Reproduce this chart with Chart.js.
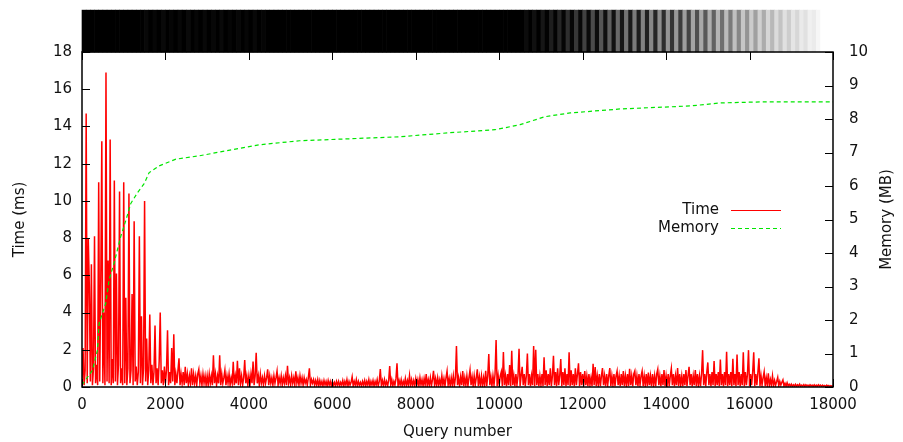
<!DOCTYPE html>
<html><head><meta charset="utf-8">
<script src="https://cdn.jsdelivr.net/npm/chart.js@4.4.1/dist/chart.umd.min.js"></script>
<style>html,body{margin:0;padding:0;background:#fff}#wrap{width:903px;height:442px}</style>
</head><body><div id="wrap"><canvas id="c" width="903" height="442"></canvas></div>
<script>
// ---- data ----
const X_TITLE = 'Query number';
const Y_TITLE = 'Time (ms)';
const Y2_TITLE = 'Memory (MB)';
const TIME_LABEL = 'Time';
const MEM_LABEL = 'Memory';
const xTicks = [0, 2000, 4000, 6000, 8000, 10000, 12000, 14000, 16000, 18000];
const yTicks = [0, 2, 4, 6, 8, 10, 12, 14, 16, 18];
const y2Ticks = [0, 1, 2, 3, 4, 5, 6, 7, 8, 9, 10];

const QUERY_STEP = 25; // queries between time samples
const timeMs = [
0.2,2.1,0.1,0.9,14.7,0.2,8.0,5.5,0.3,6.6,0.1,1.0,8.1,0.2,1.2,0.1,11.0,0.3,5.7,13.2,0.2,4.0,0.1,16.9,0.3,6.8,0.2,13.3,0.1,1.5,0.2,11.1,0.3,6.1,0.1,1.2,10.5,0.2,1.0,0.1,
11.0,0.2,4.8,0.1,1.0,10.4,0.2,0.9,5.0,0.1,8.9,0.3,1.1,0.1,0.8,8.1,0.2,3.8,0.1,1.0,10.0,0.3,2.6,0.1,0.9,3.9,0.2,1.2,0.1,0.8,3.3,0.2,1.0,0.1,1.4,4.0,0.2,0.9,0.1,1.1,
0.2,0.9,3.05,0.1,0.8,0.2,2.1,0.3,2.84,0.1,0.7,0.2,0.9,1.54,0.1,0.7,0.2,0.8,0.1,1.09,0.2,0.7,0.1,0.6,0.2,1.0,0.1,0.7,0.2,0.6,0.1,0.7,0.95,0.2,0.6,0.1,0.7,0.2,0.6,0.1,
0.6,0.1,0.7,0.2,0.6,0.1,1.7,0.2,0.7,0.1,0.6,0.2,1.7,0.1,0.7,0.2,0.5,0.9,0.1,0.6,0.2,0.7,0.1,0.5,0.2,1.36,0.1,0.6,0.2,1.41,0.1,1.0,0.2,0.6,0.1,0.5,1.45,0.2,0.6,0.1,
0.6,0.1,0.7,0.2,1.37,0.1,0.6,1.84,0.2,0.6,0.1,0.7,0.2,0.5,0.1,0.6,0.2,0.5,0.95,0.1,0.6,0.2,0.5,0.1,0.6,0.2,0.5,0.86,0.1,0.5,0.2,0.6,0.1,0.5,0.2,0.6,0.1,1.14,0.2,0.5,
0.1,0.6,0.2,0.5,0.1,0.84,0.2,0.5,0.1,0.6,0.2,0.5,0.1,0.5,0.2,0.4,0.1,0.5,1.0,0.1,0.4,0.2,0.4,0.1,0.35,0.1,0.4,0.05,0.35,0.1,0.3,0.05,0.35,0.1,0.3,0.05,0.35,0.1,0.3,0.05,
0.3,0.1,0.25,0.05,0.3,0.1,0.3,0.05,0.25,0.1,0.35,0.05,0.3,0.1,0.4,0.05,0.3,0.1,0.25,0.55,0.05,0.3,0.1,0.4,0.05,0.3,0.1,0.25,0.05,0.3,0.1,0.35,0.05,0.3,0.1,0.4,0.05,0.3,0.1,0.35,
0.05,0.3,0.1,0.4,0.05,0.3,0.96,0.1,0.35,0.05,0.4,0.1,0.3,0.05,0.35,1.13,0.1,0.4,0.05,0.3,0.1,0.45,1.27,0.05,0.35,0.1,0.4,0.05,0.3,0.1,0.45,0.05,0.35,0.1,0.62,0.05,0.4,0.1,0.35,0.05,
0.45,0.1,0.4,0.05,0.5,0.1,0.4,0.05,0.45,0.1,0.7,0.05,0.4,0.1,0.5,0.05,0.4,0.87,0.1,0.45,0.05,0.5,0.1,0.4,0.05,0.6,0.1,0.45,0.05,0.5,0.86,0.1,0.45,0.05,0.5,0.1,0.6,0.05,0.5,2.2,
0.1,0.5,0.05,0.55,0.1,0.86,0.05,0.5,0.1,0.6,0.05,0.5,0.91,0.1,0.55,0.05,0.6,0.1,0.5,0.95,0.05,0.55,0.1,0.6,0.05,0.5,0.1,0.87,0.05,0.6,1.77,0.1,0.55,0.05,0.6,0.1,0.7,2.52,0.05,0.6,
0.1,0.6,0.82,0.05,1.88,0.1,0.6,0.05,0.7,0.1,1.18,0.05,1.95,0.1,0.6,0.05,0.7,0.1,0.6,2.05,0.05,0.6,1.09,0.1,0.7,0.05,0.6,1.8,0.1,0.7,0.05,0.6,0.1,2.2,0.05,2.0,0.1,0.7,0.05,0.6,
0.1,0.7,0.05,1.6,0.1,0.9,0.05,0.7,0.1,1.0,0.05,0.6,1.68,0.1,0.8,0.05,1.0,0.1,0.6,1.5,0.05,0.8,0.1,1.0,0.05,0.7,0.1,1.87,0.05,0.9,0.1,0.7,0.05,1.0,0.1,0.7,1.27,0.05,0.8,0.1,
0.7,0.05,0.86,0.1,0.6,0.05,0.7,0.1,0.5,0.05,1.25,0.1,1.07,0.05,0.6,0.1,0.7,0.05,0.6,1.02,0.1,0.6,0.05,0.7,0.1,0.6,1.02,0.05,0.6,0.1,0.7,0.05,0.6,0.86,0.1,0.6,0.05,0.7,0.1,0.86,
0.05,0.6,0.1,0.7,0.05,0.98,0.1,0.6,0.05,0.7,0.86,0.1,0.6,0.05,0.7,0.1,0.6,0.86,0.05,0.6,0.1,0.7,0.05,0.77,0.1,0.6,0.05,0.7,0.1,0.6,0.05,0.7,0.95,0.1,0.6,0.05,0.7,0.1,0.91,0.05,
0.6,0.1,0.7,0.05,0.6,1.0,0.1,0.7,0.05,0.6,0.1,1.02,0.05,0.7,0.1,0.6,0.05,0.7,0.1,0.91,0.05,0.6,1.09,0.1,0.7,0.05,0.6,0.1,0.91,0.05,0.7,0.1,0.6,0.05,0.7,1.98,0.1,0.7,0.05,0.8,
1.32,0.1,0.7,0.05,0.8,0.1,1.39,0.05,0.7,0.1,0.8,0.05,1.48,0.1,0.7,0.05,0.8,0.1,1.89,0.05,0.7,0.1,0.8,0.05,1.52,0.1,0.7,0.05,1.75,0.1,0.8,0.05,0.7,0.1,1.86,0.05,0.8,0.1,0.7,1.98,
0.05,0.7,0.1,0.8,1.87,0.05,0.7,0.1,0.8,1.54,0.05,0.6,0.1,0.5,0.82,0.05,0.5,0.1,0.73,0.05,0.4,0.1,0.59,0.05,0.35,0.1,0.3,0.52,0.05,0.3,0.1,0.25,0.38,0.05,0.2,0.05,0.23,0.05,0.15,0.05,
0.15,0.03,0.12,0.05,0.14,0.03,0.12,0.05,0.15,0.03,0.1,0.05,0.13,0.03,0.12,0.05,0.1,0.03,0.12,0.05,0.1,0.03,0.12,0.04,0.1,0.03,0.12,0.05,0.1,0.03,0.1,0.04,0.08,0.03,0.1,0.04,0.08,0.03,0.07,0.03,
0.05
];

const memQuery = [0, 250, 370, 410, 570, 650, 770, 930, 1050, 1170, 1330, 1490, 1610, 1850, 2250, 2810, 3450, 4250, 5210, 6420, 7620, 8820, 9900, 10500, 11100, 11700, 12900, 14590, 15300, 16270, 18000];
const memMB = [0.06, 0.5, 1.1, 1.9, 2.5, 3.2, 3.7, 4.5, 4.97, 5.48, 5.8, 6.07, 6.4, 6.6, 6.8, 6.9, 7.05, 7.23, 7.35, 7.41, 7.47, 7.59, 7.68, 7.83, 8.07, 8.18, 8.3, 8.39, 8.48, 8.51, 8.51];

const BAND_BIN = 100; // queries per band cell
const bandGrey = [
0,0,0,0,0,0,0,0,0,0,0,0,0,0,0,
8,0,6,0,9,0,5,0,7,0,10,0,6,0,8,0,7,0,9,0,5,0,7,0,6,0,8,0,5,0,
0,0,0,0,0,0,0,0,0,0,0,0,0,0,0,0,0,0,0,0,0,0,0,0,0,0,0,0,0,0,
0,0,0,0,0,0,0,0,0,0,0,0,0,0,0,0,0,0,0,0,0,0,0,0,0,0,0,0,0,0,
0,12,0,16,0,22,2,30,3,38,5,46,6,55,8,65,10,75,12,85,15,95,18,105,22,115,25,122,28,130,32,136,38,142,45,
148,52,152,60,158,68,163,78,168,88,174,98,180,110,186,122,192,135,198,148,203,160,208,172,214,184,219,195,224,205,229,215,234,225,240,235,246,255,255,255
];
const BAND_LO = 18, BAND_HI = 20.25; // band sits just above the Time axis range

// ---- chart ----
const FONT = {family: "'DejaVu Sans', sans-serif", size: 15};
const TXT = '#111';

const framePlugin = {
  id: 'frame',
  afterDatasetsDraw(chart) {
    const {ctx, chartArea: a, scales} = chart;
    ctx.save();
    ctx.strokeStyle = '#000';
    ctx.lineWidth = 1;
    const TL = 8;
    ctx.beginPath();
    xTicks.forEach(v => {
      const p = Math.round(scales.x.getPixelForValue(v)) + 0.5;
      ctx.moveTo(p, a.bottom); ctx.lineTo(p, a.bottom - TL);
      ctx.moveTo(p, a.top); ctx.lineTo(p, a.top + TL);
    });
    yTicks.forEach(v => {
      const p = Math.round(scales.y.getPixelForValue(v)) + 0.5;
      ctx.moveTo(a.left, p); ctx.lineTo(a.left + TL, p);
    });
    y2Ticks.forEach(v => {
      const p = Math.round(scales.y2.getPixelForValue(v)) + 0.5;
      ctx.moveTo(a.right, p); ctx.lineTo(a.right - TL, p);
    });
    ctx.stroke();
    ctx.lineWidth = 1.5;
    ctx.strokeRect(a.left, a.top, a.right - a.left, a.bottom - a.top);
    // legend
    const ds = chart.data.datasets;
    const items = [ds[1], ds[0]];
    ctx.font = FONT.size + 'px ' + FONT.family;
    ctx.fillStyle = TXT;
    ctx.textAlign = 'right';
    ctx.textBaseline = 'middle';
    items.forEach((d, i) => {
      const y = 210 + i * 18;
      ctx.fillText(d.label, 719, y);
      ctx.beginPath();
      ctx.strokeStyle = d.borderColor;
      ctx.lineWidth = 1;
      ctx.setLineDash(d.borderDash || []);
      ctx.moveTo(731, y + 0.5); ctx.lineTo(781, y + 0.5);
      ctx.stroke();
      ctx.setLineDash([]);
    });
    // right axis title (reads bottom to top)
    ctx.save();
    ctx.translate(887, (a.top + a.bottom) / 2);
    ctx.rotate(-Math.PI / 2);
    ctx.textAlign = 'center';
    ctx.fillText(Y2_TITLE, 0, 0);
    ctx.restore();
    ctx.restore();
  }
};

new Chart(document.getElementById('c'), {
  data: {
    datasets: [
      {type: 'line', label: MEM_LABEL, yAxisID: 'y2',
       data: memMB.map((v, i) => ({x: memQuery[i], y: v})),
       borderColor: 'rgb(0,230,0)', borderWidth: 1.2, borderDash: [4, 3],
       pointRadius: 0, tension: 0, order: 0},
      {type: 'line', label: TIME_LABEL, yAxisID: 'y',
       data: timeMs.map((v, i) => ({x: i * QUERY_STEP, y: v})),
       borderColor: '#ff0000', borderWidth: 1.5, pointRadius: 0, tension: 0, order: 1},
      {type: 'bar', label: 'band', yAxisID: 'y', clip: false, grouped: false,
       data: bandGrey.map((g, i) => ({x: i * BAND_BIN + BAND_BIN / 2, y: [BAND_LO, BAND_HI]})),
       backgroundColor: bandGrey.map(g => `rgb(${g},${g},${g})`),
       borderWidth: 0, barPercentage: 1, categoryPercentage: 1, order: 2}
    ]
  },
  options: {
    responsive: false, animation: false, events: [],
    layout: {padding: {top: 52, left: 0, right: 0, bottom: 0}},
    plugins: {legend: {display: false}, tooltip: {enabled: false}},
    scales: {
      x: {type: 'linear', position: 'bottom', min: 0, max: 18000, offset: false,
          grid: {display: false, drawTicks: false, offset: false}, border: {display: false},
          afterBuildTicks: s => { s.ticks = xTicks.map(v => ({value: v})); },
          ticks: {font: FONT, color: TXT, padding: 9, maxRotation: 0, autoSkip: false, callback: v => String(v)},
          title: {display: true, text: X_TITLE, font: FONT, color: TXT, padding: {top: 0, bottom: 1}},
          afterFit: s => { s.height = 55; }},
      y: {type: 'linear', position: 'left', min: 0, max: 18,
          grid: {display: false, drawTicks: false}, border: {display: false},
          afterBuildTicks: s => { s.ticks = yTicks.map(v => ({value: v})); },
          ticks: {font: FONT, color: TXT, padding: 10, callback: v => String(v)},
          title: {display: true, text: Y_TITLE, font: FONT, color: TXT, padding: {top: 11, bottom: 0}},
          afterFit: s => { s.width = 82; }},
      y2: {type: 'linear', position: 'right', min: 0, max: 10,
          grid: {display: false, drawTicks: false}, border: {display: false},
          afterBuildTicks: s => { s.ticks = y2Ticks.map(v => ({value: v})); },
          ticks: {font: FONT, color: TXT, padding: 16, callback: v => String(v)},
          afterFit: s => { s.width = 70; }}
    }
  },
  plugins: [framePlugin]
});
</script></body></html>
